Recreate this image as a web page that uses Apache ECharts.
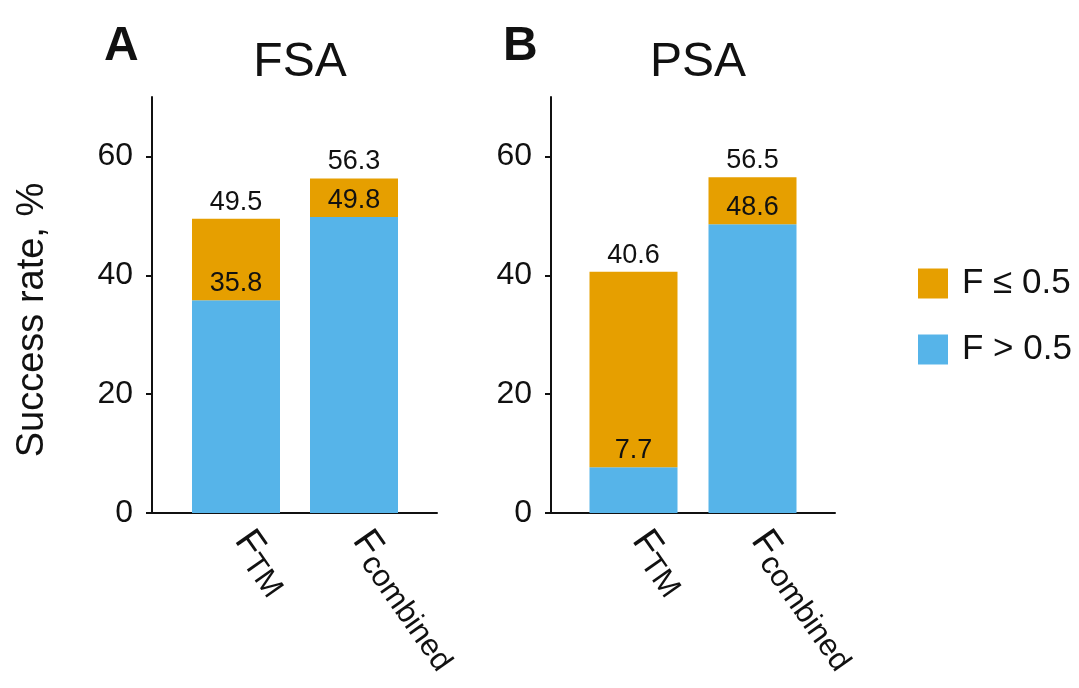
<!DOCTYPE html>
<html><head><meta charset="utf-8">
<script src="https://cdn.jsdelivr.net/npm/echarts@6/dist/echarts.min.js"></script>
<style>html,body{margin:0;padding:0;background:#fff}#c{width:1079px;height:688px}</style>
</head><body><div id="c"></div>
<script>
// ---- data ----
const categories = ['FTM', 'Fcombined'];
const panelTitles = ['FSA', 'PSA'];
const panelLetters = ['A', 'B'];
const fsaHigh = [35.8, 49.8];   // F > 0.5
const fsaTotal = [49.5, 56.3];  // total success rate
const psaHigh = [7.7, 48.6];
const psaTotal = [40.6, 56.5];
const yTicks = [0, 20, 40, 60];
const seriesNames = ['F ≤ 0.5', 'F > 0.5'];
const yName = 'Success rate, %';

// ---- styles ----
const FONT = '"Liberation Sans", Arial, Helvetica, sans-serif';
const ORANGE = '#E69F00';
const BLUE = '#56B4E9';
const INK = '#111';
const YMAX = 70;

const chart = echarts.init(document.getElementById('c'), null, {renderer: 'canvas'});

const frames = [
  {left: 152, width: 285},
  {left: 551, width: 284}
];
const barGrids = [
  {left: 177, width: 236},
  {left: 574, width: 238}
];
const TOP = 97, BOTTOM = 175;

const grids = [], xAxes = [], yAxes = [], series = [];

function catLabel(v) {
  return '{f|' + v.charAt(0) + '}{s|' + v.slice(1) + '}';
}

[[fsaHigh, fsaTotal], [psaHigh, psaTotal]].forEach(function (p, i) {
  const high = p[0], total = p[1];
  const low = total.map(function (t, k) { return +(t - high[k]).toFixed(1); });
  // frame grid (axis lines, y ticks)
  grids.push({left: frames[i].left, width: frames[i].width, top: TOP, bottom: BOTTOM, containLabel: false});
  const fIdx = grids.length - 1;
  xAxes.push({
    gridIndex: fIdx, type: 'category', data: [''],
    axisLine: {show: true, lineStyle: {color: INK, width: 2}},
    axisTick: {show: false}, axisLabel: {show: false}, splitLine: {show: false}
  });
  yAxes.push({
    gridIndex: fIdx, type: 'value', min: 0, max: YMAX,
    name: i === 0 ? yName : '', nameLocation: 'middle', nameGap: 100,
    nameTextStyle: {fontFamily: FONT, fontSize: 38, color: INK, padding: [0, 30, 0, 0]},
    axisLine: {show: true, lineStyle: {color: INK, width: 2}},
    axisTick: {show: true, length: 6, customValues: yTicks, lineStyle: {color: INK, width: 2}},
    axisLabel: {show: true, customValues: yTicks, margin: 19, fontFamily: FONT, fontSize: 32, color: INK},
    splitLine: {show: false}
  });
  // bar grid
  grids.push({left: barGrids[i].left, width: barGrids[i].width, top: TOP, bottom: BOTTOM, containLabel: false});
  const bIdx = grids.length - 1;
  xAxes.push({
    gridIndex: bIdx, type: 'category', data: categories,
    axisLine: {show: false}, axisTick: {show: false}, splitLine: {show: false},
    axisLabel: {
      show: true, rotate: -55, margin: 26, interval: 0,
      formatter: catLabel,
      rich: {
        f: {fontFamily: FONT, fontSize: 38, color: INK, padding: [0, 0, 16, 0]},
        s: {fontFamily: FONT, fontSize: 31, color: INK}
      }
    }
  });
  yAxes.push({
    gridIndex: bIdx, type: 'value', min: 0, max: YMAX, show: false
  });
  const xi = xAxes.length - 1, yi = yAxes.length - 1;
  series.push({
    name: seriesNames[1], type: 'bar', stack: 'p' + i, xAxisIndex: xi, yAxisIndex: yi,
    data: high, barWidth: 88, itemStyle: {color: BLUE},
    label: {show: true, position: 'top', distance: 3, fontFamily: FONT, fontSize: 27, color: INK,
      formatter: function (d) { return high[d.dataIndex].toFixed(1); }}
  });
  series.push({
    name: seriesNames[0], type: 'bar', stack: 'p' + i, xAxisIndex: xi, yAxisIndex: yi,
    data: low, barWidth: 88, itemStyle: {color: ORANGE},
    label: {show: true, position: 'top', distance: 3, fontFamily: FONT, fontSize: 27, color: INK,
      formatter: function (d) { return total[d.dataIndex].toFixed(1); }}
  });
});

const option = {
  backgroundColor: '#fff',
  animation: false,
  title: [
    {text: panelLetters[0], left: 99, top: 18, textStyle: {fontFamily: FONT, fontSize: 48, fontWeight: 'bold', color: INK}},
    {text: panelTitles[0], left: 295, top: 34, textAlign: 'center', textStyle: {fontFamily: FONT, fontSize: 48, fontWeight: 'normal', color: INK}},
    {text: panelLetters[1], left: 498, top: 18, textStyle: {fontFamily: FONT, fontSize: 48, fontWeight: 'bold', color: INK}},
    {text: panelTitles[1], left: 693, top: 34, textAlign: 'center', textStyle: {fontFamily: FONT, fontSize: 48, fontWeight: 'normal', color: INK}}
  ],
  legend: {
    data: seriesNames, orient: 'vertical', left: 913, top: 261,
    itemWidth: 30, itemHeight: 30, itemGap: 31, icon: 'rect',
    textStyle: {fontFamily: FONT, fontSize: 35, lineHeight: 30, color: INK, padding: [0, 0, 0, 9]}
  },
  grid: grids, xAxis: xAxes, yAxis: yAxes, series: series
};
chart.setOption(option);
</script></body></html>
